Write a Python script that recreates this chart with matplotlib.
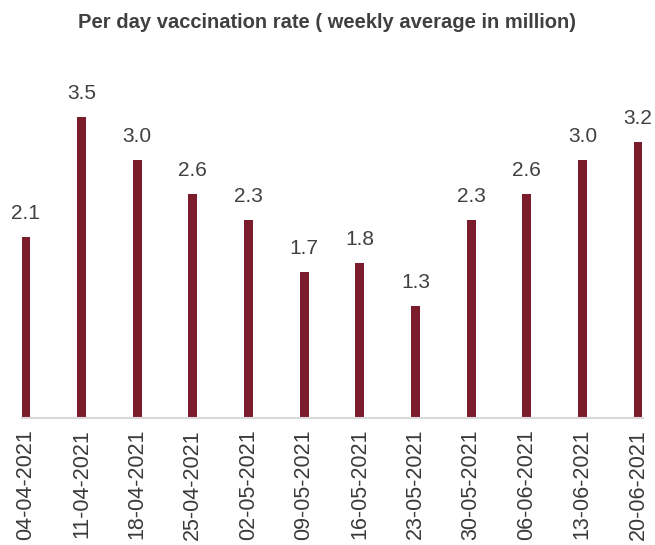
import matplotlib.pyplot as plt

dates = ['04-04-2021', '11-04-2021', '18-04-2021', '25-04-2021', '02-05-2021', '09-05-2021',
         '16-05-2021', '23-05-2021', '30-05-2021', '06-06-2021', '13-06-2021', '20-06-2021']
rate = [2.1, 3.5, 3.0, 2.6, 2.3, 1.7, 1.8, 1.3, 2.3, 2.6, 3.0, 3.2]

plt.rcParams['font.family'] = ['Liberation Sans', 'DejaVu Sans']

fig = plt.figure(figsize=(6.55, 5.45), dpi=100)
ax = fig.add_axes([22/655, 1 - 418/545, 621/655, 418/545 - 0.04])

x = list(range(len(dates)))
ax.bar(x, rate, width=0.16, color='#7b1c2c')
for xi, v in zip(x, rate):
    ax.annotate('%.1f' % v, (xi, v), xytext=(0, 10), textcoords='offset points',
                ha='center', va='bottom', fontsize=15, color='#404040')

ax.set_xlim(-0.07, 11.09)
ax.set_ylim(0, 4.6)
ax.set_xticks(x)
ax.set_xticklabels(dates, rotation=90, fontsize=15.5, color='#3a3a3a', va='top')
ax.tick_params(axis='x', length=0, pad=8)
ax.set_yticks([])
for s in ['top', 'right', 'left']:
    ax.spines[s].set_visible(False)
ax.spines['bottom'].set_color('#d9d9d9')
ax.spines['bottom'].set_linewidth(1.5)

fig.text(0.5, 1 - 23/545, 'Per day vaccination rate ( weekly average in million)',
         ha='center', va='center', fontsize=14.5, fontweight='bold', color='#404040')

fig.savefig('out.png', dpi=100)
